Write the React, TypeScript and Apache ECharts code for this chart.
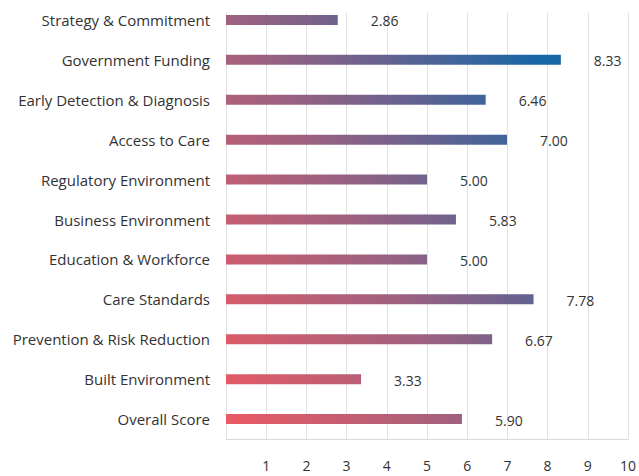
import React, { useEffect, useRef } from "react";
import * as echarts from "echarts";

const categories = [
  "Strategy & Commitment",
  "Government Funding",
  "Early Detection & Diagnosis",
  "Access to Care",
  "Regulatory Environment",
  "Business Environment",
  "Education & Workforce",
  "Care Standards",
  "Prevention & Risk Reduction",
  "Built Environment",
  "Overall Score",
];
// bar lengths as drawn in the picture
const values = [2.78, 8.33, 6.46, 6.99, 5.0, 5.72, 5.0, 7.65, 6.62, 3.36, 5.87];
// value labels as printed
const valueLabels = ["2.86", "8.33", "6.46", "7.00", "5.00", "5.83", "5.00", "7.78", "6.67", "3.33", "5.90"];
const xTicks = [0, 1, 2, 3, 4, 5, 6, 7, 8, 9, 10];

export default function App() {
  const ref = useRef<HTMLDivElement>(null);
  useEffect(() => {
    document.body.style.margin = "0";
    const chart = echarts.init(ref.current!, null, { renderer: "svg" });
    const font = "'Open Sans', 'Noto Sans', sans-serif";
    chart.setOption({
      animation: false,
      grid: { left: 226, right: 11, top: -4, bottom: 37, containLabel: false },
      xAxis: {
        type: "value",
        min: xTicks[0],
        max: xTicks[xTicks.length - 1],
        interval: 1,
        axisLine: { show: true, lineStyle: { color: "#d9d9d9" } },
        axisTick: { show: false },
        splitLine: { show: true, lineStyle: { color: "#e3e3e3" } },
        axisLabel: {
          margin: 19,
          color: "#333",
          fontSize: 14,
          fontFamily: font,
          formatter: (v: number) => (v === 0 ? "" : String(v)),
        },
      },
      yAxis: {
        type: "category",
        data: categories,
        inverse: true,
        axisLine: { show: false },
        axisTick: { show: false },
        axisLabel: { margin: 16, color: "#333", fontSize: 15, fontFamily: font },
      },
      graphic: [
        {
          type: "rect",
          z: 100,
          shape: { x: 220, y: 0, width: 419, height: 12 },
          style: { fill: "#fff" },
        },
      ],
      series: [
        {
          type: "bar",
          data: values,
          barWidth: 10,
          itemStyle: {
            color: new echarts.graphic.LinearGradient(
              226,
              420,
              616,
              188,
              [
                { offset: 0, color: "#ea5a63" },
                { offset: 0.45, color: "#a0617f" },
                { offset: 0.7, color: "#66628f" },
                { offset: 1, color: "#1766a6" },
              ],
              true
            ),
          },
          label: {
            show: true,
            position: "right",
            distance: 33,
            offset: [0, 1],
            color: "#333",
            fontSize: 14,
            fontFamily: font,
            formatter: (p: any) => valueLabels[p.dataIndex],
          },
        },
      ],
    });
    return () => chart.dispose();
  }, []);
  return <div ref={ref} style={{ width: 639, height: 476 }} />;
}
